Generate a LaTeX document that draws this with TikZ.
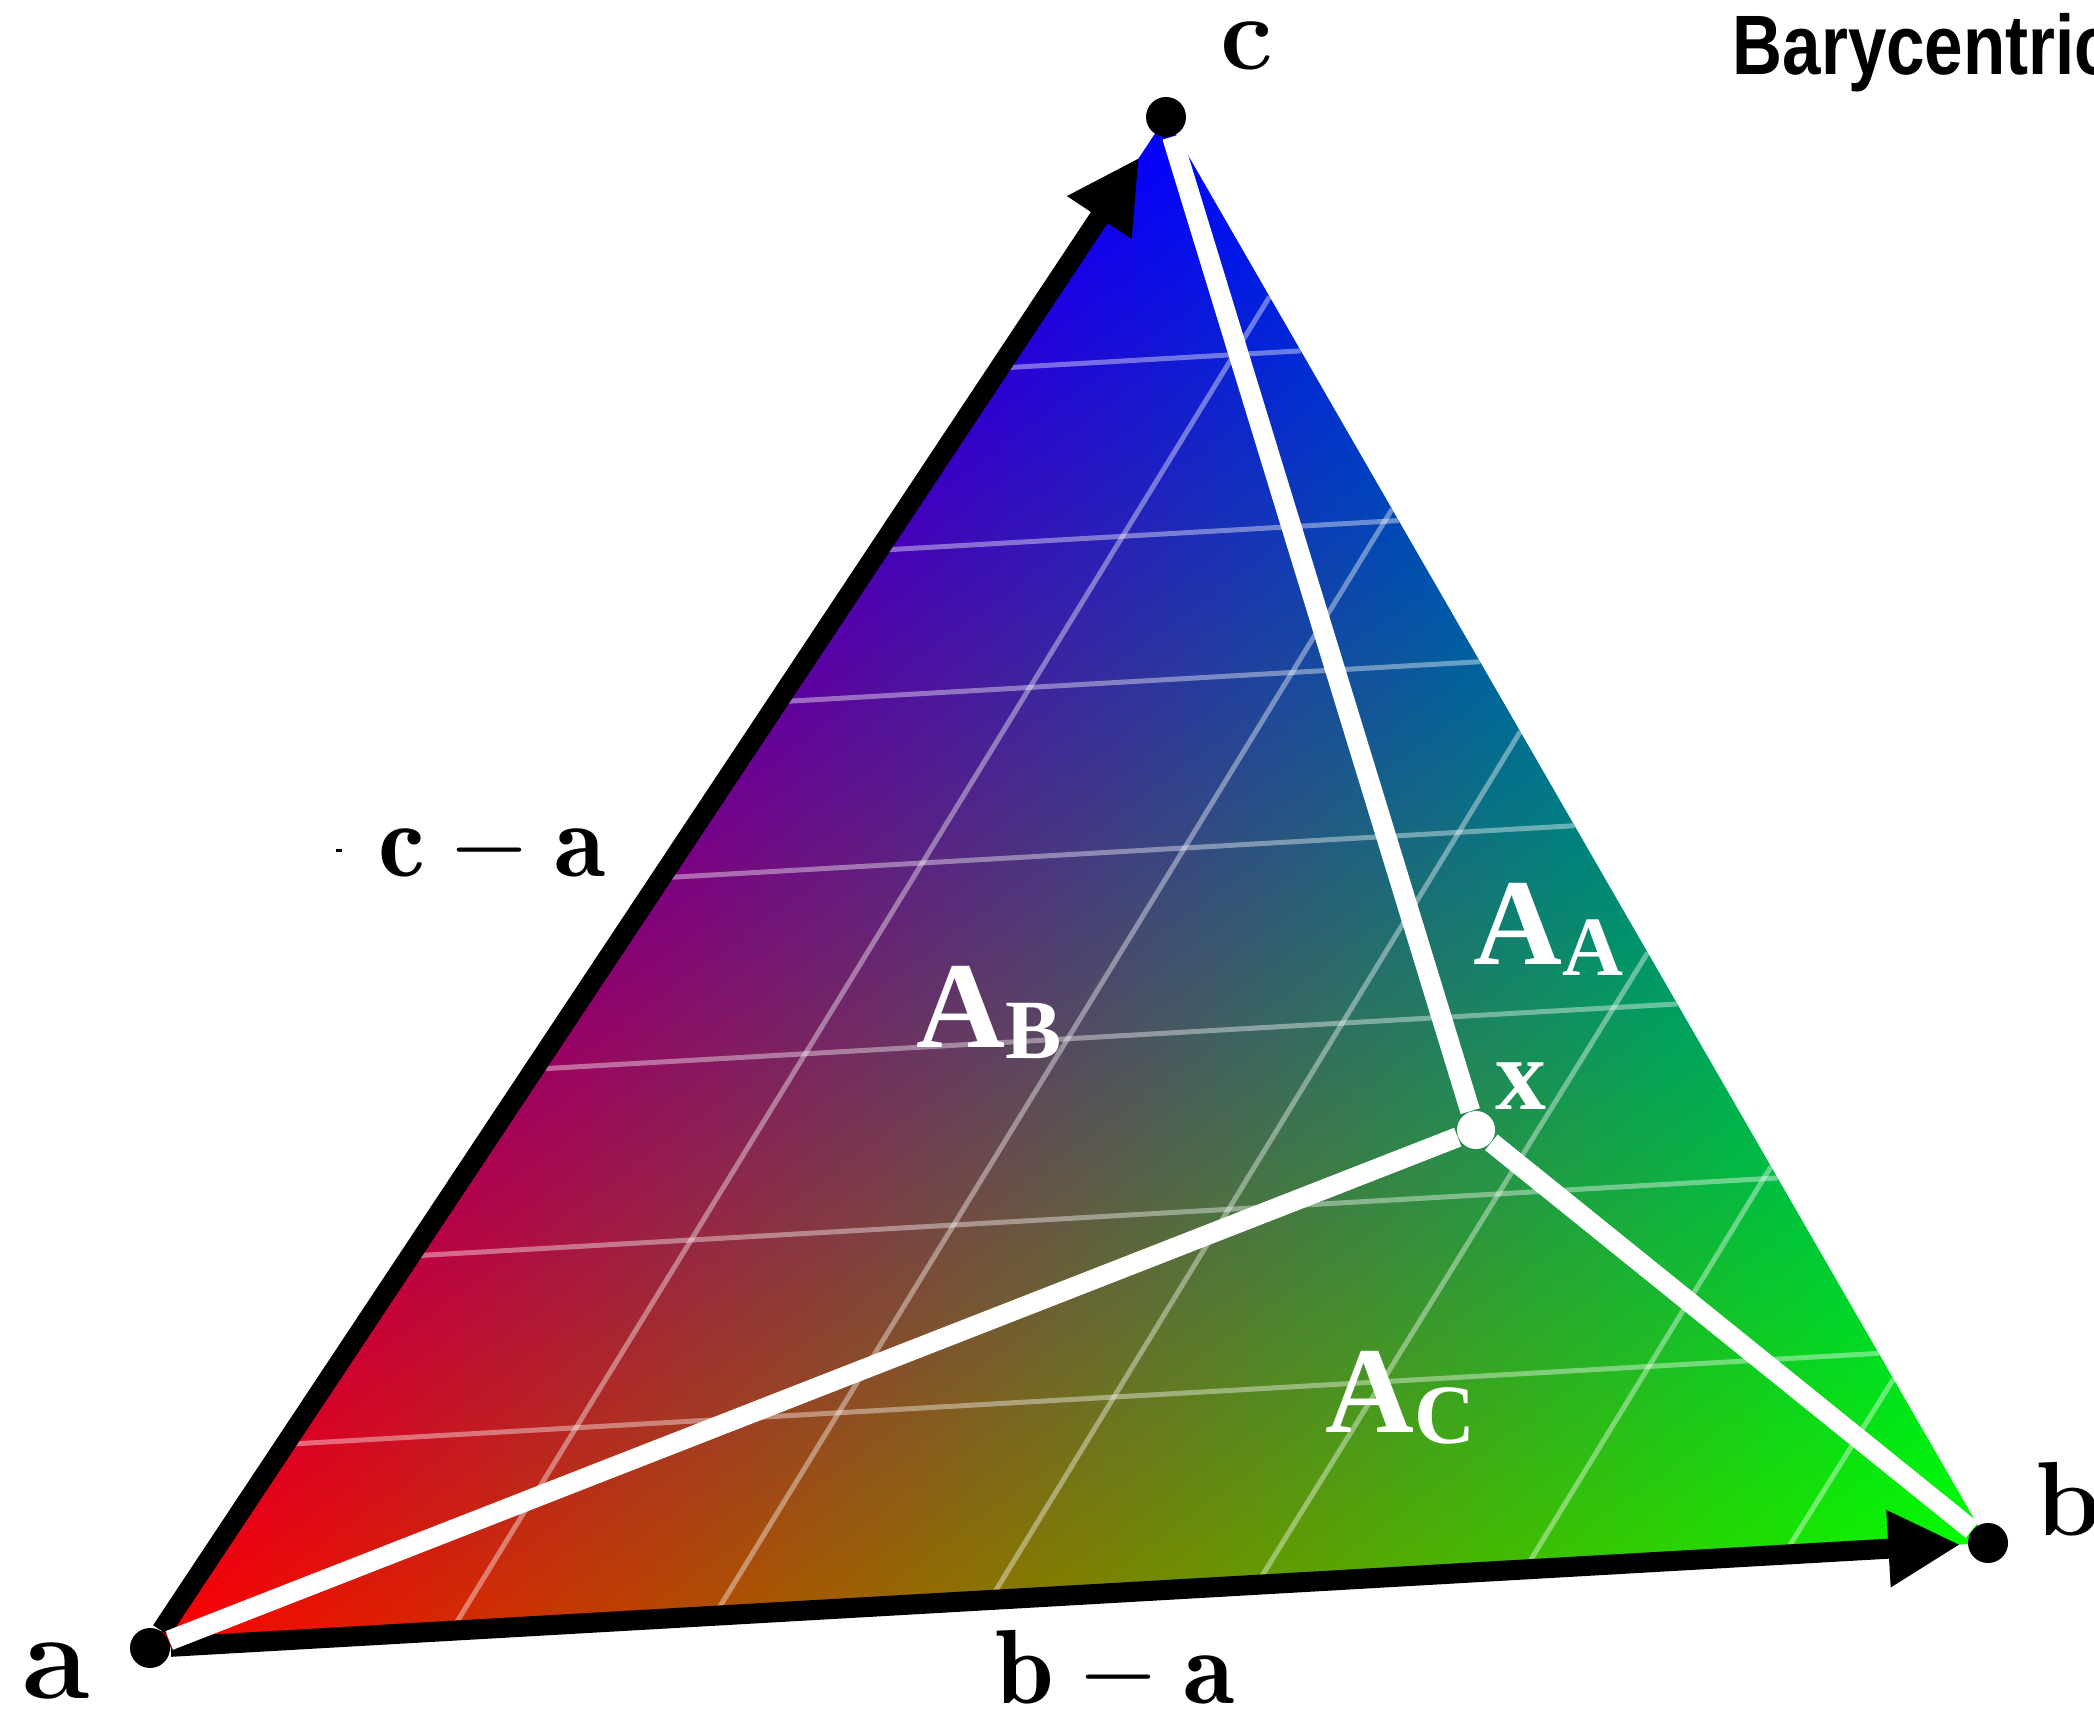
\documentclass[tikz,border=0pt]{standalone}
\usepackage{fix-cm}
\usepackage{fontspec}
\usepackage{tikz}
\usetikzlibrary{arrows.meta, positioning, calc, backgrounds}
\newfontfamily\titlefont{Liberation Sans}[FakeStretch=0.82]
\newfontfamily\areafont{Liberation Serif}

% barycentric colour ramp, the path box is the inner 25bp--75bp square
\pgfdeclarefunctionalshading{barycolor}{\pgfpointorigin}{\pgfpoint{100bp}{100bp}}{}{
  25 sub 50 div exch 25 sub 50 div exch
  2 copy -0.574557 mul exch 1.039405 mul add
  3 1 roll
  1.039405 mul exch -0.071285 mul add
  2 copy add 1 exch sub
  3 1 roll
}

\newcommand{\areaname}[1]{A\raisebox{-0.11cm}{\fontsize{24}{26}\selectfont #1}}

\begin{document}
\begin{tikzpicture}[
    vertex/.style={circle, fill=black, inner sep=0pt, minimum size=0.4cm},
    vlabel/.style={inner sep=0pt, font=\fontsize{30}{34}\selectfont\bfseries},
    vec/.style={line width=0.2cm, -{Triangle[length=0.72cm, width=0.72cm]}},
    split/.style={white, line width=0.2cm},
    gridline/.style={white, opacity=0.4, line width=0.05cm},
    area/.style={white, inner sep=0pt, anchor=base west, font=\areafont\bfseries\fontsize{35}{38}\selectfont}
  ]
  \path[use as bounding box] (0,0) rectangle (20.94,17.09);
  \clip (0,0) rectangle (20.94,17.09);

  % Vertices
  \node[vertex] (a) at (1.50,0.61) {};
  \node[vertex] (b) at (19.88,1.66) {};
  \node[vertex] (c) at (11.66,15.92) {};
  \node[circle, fill=white, inner sep=0pt, minimum size=0.38cm] (x) at (14.76,5.79) {};

  % Coloured triangle and grid
  \begin{scope}[on background layer]
    \clip (a.center) -- (b.center) -- (c.center) -- cycle;
    \shade[shading=barycolor] (a.center) rectangle (b.center |- c.center);
    \foreach \t in {0.133,0.256,0.378,0.503,0.618,0.717,0.836}
      \draw[gridline] ($(a)!\t!(c)$) -- ($(b)!\t!(c)$);
    \foreach \u/\s in {0.164/0.126,0.307/0.275,0.457/0.431,0.602/0.586,0.748/0.736,0.889/0.885}
      \draw[gridline] ($(a)!\u!(b)$) -- ($(c)!\s!(b)$);
  \end{scope}

  % Edge vectors
  \draw[vec, shorten >=0.07cm] (a) -- (b);
  \draw[vec, shorten >=0.28cm] (a) -- (c);

  % Split at x
  \draw[split] (a) -- (x);
  \draw[split] (x) -- (b);
  \draw[split] (x) -- (c);

  % Labels
  \node[vlabel, anchor=base, font=\fontsize{35}{40}\selectfont\bfseries] (la) at (0.565,0.11) {a};
  \node[vlabel, anchor=base west] (lb) at (20.35,1.74) {b};
  \node[vlabel, anchor=base] (lc) at (12.47,16.39) {c};
  \node[vlabel, anchor=base] (ba) at (11.15,0.06) {$\mathbf{b}-\mathbf{a}$};
  \node[vlabel, anchor=base] (ca) at (4.92,8.32) {$\mathbf{c}-\mathbf{a}$};
  \fill ($(ca.base west)+(-0.42,0.25)$) rectangle ++(0.06,0.025);

  \node[area] (AA) at (14.73,7.44) {\areaname{A}};
  \node[area] (AB) at (9.16,6.61) {\areaname{B}};
  \node[area] (AC) at (13.25,2.77) {\areaname{C}};
  \node[area, font=\areafont\bfseries\fontsize{29}{32}\selectfont] (lx) at (14.95,5.99) {x};

  \node[anchor=base west, inner sep=0pt, font=\titlefont\bfseries\fontsize{24}{28}\selectfont] (title) at (17.32,16.34) {Barycentric coordinates};
\end{tikzpicture}
\end{document}
